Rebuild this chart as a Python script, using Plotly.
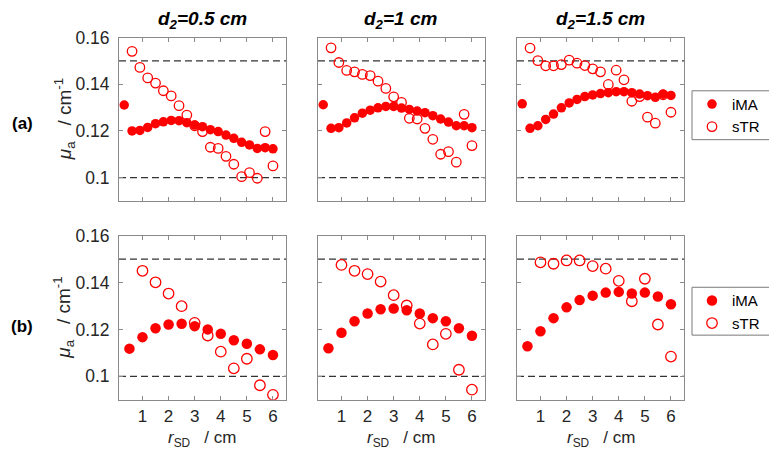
import plotly.graph_objects as go

# ---------------- data ----------------
x_top = [0.3, 0.6, 0.9, 1.2, 1.5, 1.8, 2.1, 2.4, 2.7, 3.0, 3.3, 3.6, 3.9, 4.2, 4.5, 4.8, 5.1, 5.4, 5.7, 6.0]
x_top_str = [0.6, 0.9, 1.2, 1.5, 1.8, 2.1, 2.4, 2.7, 3.0, 3.3, 3.6, 3.9, 4.2, 4.5, 4.8, 5.1, 5.4, 5.7, 6.0]
x_bot = [0.5, 1.0, 1.5, 2.0, 2.5, 3.0, 3.5, 4.0, 4.5, 5.0, 5.5, 6.0]
x_bot_str = [1.0, 1.5, 2.0, 2.5, 3.0, 3.5, 4.0, 4.5, 5.0, 5.5, 6.0]

ima_a1 = [0.1311, 0.1200, 0.1202, 0.1215, 0.1231, 0.1239, 0.1245, 0.1244, 0.1235, 0.1225,
          0.1218, 0.1205, 0.1197, 0.1182, 0.1168, 0.1151, 0.1140, 0.1125, 0.1128, 0.1123]
str_a1 = [0.1541, 0.1472, 0.1427, 0.1405, 0.1372, 0.1350, 0.1308, 0.1268, 0.1222, 0.1197,
          0.1130, 0.1125, 0.1091, 0.1057, 0.1004, 0.1021, 0.0997, 0.1197, 0.1050]
ima_a2 = [0.1312, 0.1211, 0.1214, 0.1234, 0.1256, 0.1276, 0.1289, 0.1299, 0.1305, 0.1305,
          0.1298, 0.1292, 0.1285, 0.1278, 0.1265, 0.1251, 0.1238, 0.1222, 0.1222, 0.1214]
str_a2 = [0.1556, 0.1493, 0.1459, 0.1453, 0.1442, 0.1437, 0.1413, 0.1382, 0.1346, 0.1322,
          0.1254, 0.1251, 0.1211, 0.1164, 0.1100, 0.1111, 0.1066, 0.1271, 0.1137]
ima_a3 = [0.1316, 0.1211, 0.1222, 0.1249, 0.1272, 0.1299, 0.1320, 0.1335, 0.1347, 0.1354,
          0.1360, 0.1364, 0.1368, 0.1368, 0.1364, 0.1358, 0.1351, 0.1344, 0.1357, 0.1352]
str_a3 = [0.1555, 0.1501, 0.1479, 0.1479, 0.1484, 0.1503, 0.1490, 0.1480, 0.1466, 0.1453,
          0.1399, 0.1460, 0.1419, 0.1327, 0.1347, 0.1259, 0.1233, 0.1355, 0.1280]

ima_b1 = [0.1118, 0.1167, 0.1205, 0.1221, 0.1224, 0.1214, 0.1200, 0.1181, 0.1154, 0.1139, 0.1115, 0.1091]
str_b1 = [0.1450, 0.1401, 0.1353, 0.1299, 0.1228, 0.1174, 0.1105, 0.1034, 0.1075, 0.0962, 0.0921]
ima_b2 = [0.1120, 0.1186, 0.1235, 0.1268, 0.1286, 0.1289, 0.1282, 0.1268, 0.1248, 0.1235, 0.1205, 0.1173]
str_b2 = [0.1475, 0.1450, 0.1436, 0.1404, 0.1346, 0.1302, 0.1225, 0.1136, 0.1181, 0.1028, 0.0943]
ima_b3 = [0.1128, 0.1192, 0.1248, 0.1294, 0.1325, 0.1344, 0.1357, 0.1360, 0.1353, 0.1357, 0.1340, 0.1307]
str_b3 = [0.1486, 0.1480, 0.1494, 0.1494, 0.1470, 0.1459, 0.1407, 0.1320, 0.1416, 0.1221, 0.1084]

col_titles = ["d<sub>2</sub>=0.5 cm", "d<sub>2</sub>=1 cm", "d<sub>2</sub>=1.5 cm"]
row_labels = ["(a)", "(b)"]
x_ticks = [1, 2, 3, 4, 5, 6]
y_ticks = [0.1, 0.12, 0.14, 0.16]
y_tick_text = ["0.1", "0.12", "0.14", "0.16"]
ref_lines = [0.1, 0.15]
series_names = ["iMA", "sTR"]

# ---------------- layout geometry ----------------
W, H = 777, 462
FONT = "Liberation Sans, Arial, sans-serif"
RED = "#ff0000"
AXC = "#8a8a8a"
TXT = "#262626"

# page offset correction (screen px -> figure px)
def SX(x):
    return x - 8

def SY(y):
    return (y - 16) / 0.981

col_px = [(119, 286), (318, 485), (517, 684)]
row_px = [(35.6, 199.4), (234.2, 398.8)]

def xd(a, b):
    return [SX(a) / W, SX(b) / W]

def yd(top, bot):
    return [1 - SY(bot) / H, 1 - SY(top) / H]

def px(x):
    return SX(x) / W

def py(y):
    return 1 - SY(y) / H

fig = go.Figure()

top_sets = [(ima_a1, str_a1), (ima_a2, str_a2), (ima_a3, str_a3)]
bot_sets = [(ima_b1, str_b1), (ima_b2, str_b2), (ima_b3, str_b3)]

idx = 0
for r in range(2):
    for c in range(3):
        idx += 1
        xa = "x" if idx == 1 else f"x{idx}"
        ya = "y" if idx == 1 else f"y{idx}"
        if r == 0:
            ima, stv = top_sets[c]
            xi, xs = x_top, x_top_str
            msize = 9.5
            leg = "legend"
        else:
            ima, stv = bot_sets[c]
            xi, xs = x_bot, x_bot_str
            msize = 10.5
            leg = "legend2"
        show = (c == 0)
        fig.add_trace(go.Scatter(
            x=xi, y=ima, mode="markers", name=series_names[0],
            marker=dict(symbol="circle", size=msize, color=RED, line=dict(width=0)),
            xaxis=xa, yaxis=ya, showlegend=show, legend=leg))
        fig.add_trace(go.Scatter(
            x=xs, y=stv, mode="markers", name=series_names[1],
            marker=dict(symbol="circle-open", size=msize, color=RED, line=dict(width=1.3, color=RED)),
            xaxis=xa, yaxis=ya, showlegend=show, legend=leg))

        xkey = "xaxis" if idx == 1 else f"xaxis{idx}"
        ykey = "yaxis" if idx == 1 else f"yaxis{idx}"
        fig.update_layout(**{
            xkey: dict(
                domain=xd(*col_px[c]), anchor=ya, range=[0.1, 6.5],
                tickvals=x_ticks, ticktext=[str(t) for t in x_ticks],
                showticklabels=(r == 1),
                ticks="inside", ticklen=4, tickcolor=AXC, tickwidth=1,
                showline=True, linecolor=AXC, linewidth=1, mirror="ticks",
                showgrid=False, zeroline=False,
                tickfont=dict(family=FONT, size=17, color=TXT),
                ticklabelstandoff=1,
            ),
            ykey: dict(
                domain=yd(*row_px[r]), anchor=xa, range=[0.09, 0.16],
                tickvals=y_ticks, ticktext=y_tick_text,
                showticklabels=(c == 0),
                ticks="inside", ticklen=4, tickcolor=AXC, tickwidth=1,
                showline=True, linecolor=AXC, linewidth=1, mirror="ticks",
                showgrid=False, zeroline=False,
                tickfont=dict(family=FONT, size=17.5, color=TXT),
                ticklabelstandoff=5,
            ),
        })
        for v in ref_lines:
            fig.add_shape(type="line", xref=f"{xa} domain", yref=ya,
                          x0=0, x1=1, y0=v, y1=v,
                          line=dict(color="#333333", width=1.3, dash="7px,4px"), layer="below")

annotations = []
for c in range(3):
    cx = (col_px[c][0] + col_px[c][1]) / 2
    annotations.append(dict(text=f"<b><i>{col_titles[c]}</i></b>", x=px(cx), y=py(18),
                            xref="paper", yref="paper", showarrow=False,
                            xanchor="center", yanchor="middle",
                            font=dict(family=FONT, size=19, color="#000000")))
    annotations.append(dict(text="<i>r</i><sub>SD</sub>   / cm", x=px(cx), y=py(438),
                            xref="paper", yref="paper", showarrow=False,
                            xanchor="center", yanchor="middle",
                            font=dict(family=FONT, size=17, color=TXT)))
row_label_y = [122, 325]
for r in range(2):
    cy = (row_px[r][0] + row_px[r][1]) / 2
    annotations.append(dict(text="<i>μ</i><sub>a</sub>   / cm<sup>-1</sup>", x=px(64), y=py(cy),
                            xref="paper", yref="paper", showarrow=False, textangle=-90,
                            xanchor="center", yanchor="middle",
                            font=dict(family=FONT, size=19, color=TXT)))
    annotations.append(dict(text=f"<b>{row_labels[r]}</b>", x=px(22), y=py(row_label_y[r]),
                            xref="paper", yref="paper", showarrow=False,
                            xanchor="center", yanchor="middle",
                            font=dict(family=FONT, size=17, color="#000000")))

# legend frames
legend_boxes = [(692, 770, 89, 138), (692, 770, 286, 334)]
for (x0, x1, y0, y1) in legend_boxes:
    fig.add_shape(type="rect", xref="paper", yref="paper",
                  x0=px(x0), x1=px(x1), y0=py(y1), y1=py(y0),
                  line=dict(color="#7a7a7a", width=1), fillcolor="rgba(0,0,0,0)")

legend_style = dict(xanchor="left", yanchor="top", bgcolor="rgba(0,0,0,0)",
                    borderwidth=0,
                    font=dict(family=FONT, size=15, color="#000000"),
                    itemwidth=30, tracegroupgap=0)

fig.update_layout(
    width=W, height=H, margin=dict(l=0, r=0, t=0, b=0),
    paper_bgcolor="white", plot_bgcolor="white",
    annotations=annotations,
    legend=dict(x=px(692), y=py(86), **legend_style),
    legend2=dict(x=px(692), y=py(283), **legend_style),
    showlegend=True,
)

fig.write_html("out.html")
